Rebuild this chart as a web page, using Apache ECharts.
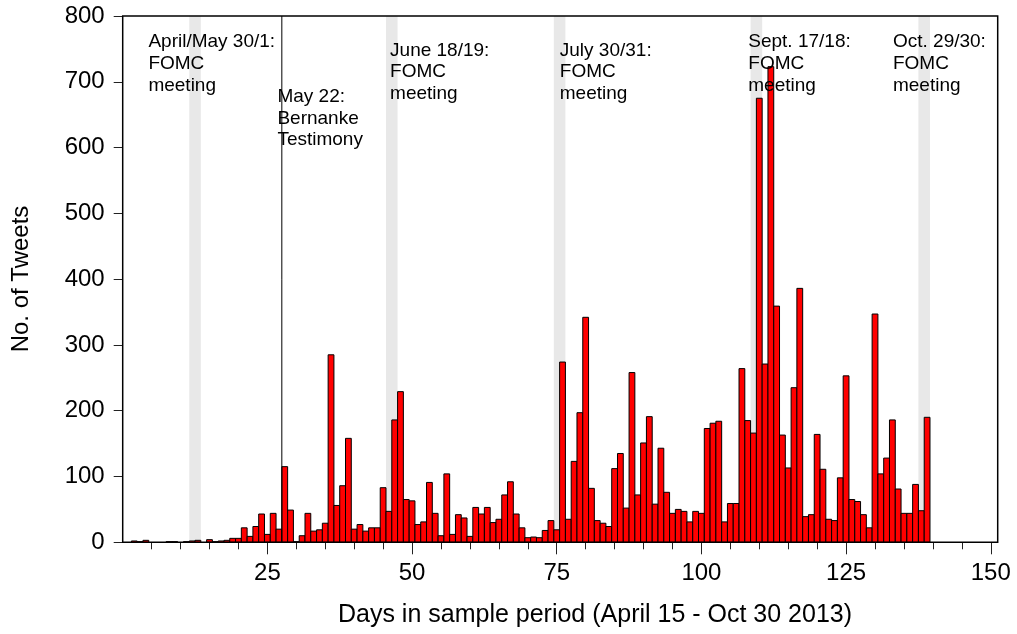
<!DOCTYPE html>
<html><head><meta charset="utf-8">
<script src="https://cdn.jsdelivr.net/npm/echarts@6/dist/echarts.min.js"></script>
<style>html,body{margin:0;padding:0;background:#fff}#c{width:1017px;height:634px}</style>
</head><body><div id="c"></div>
<script>
// Daily tweet counts, day 1 .. day 139 of the sample period
const tweets = [
  0,2,1,3,0,0,0,1,1,0,
  1,2,3,0,4,1,2,3,6,6,
  22,9,24,43,12,44,20,115,49,1,
  10,44,17,19,29,285,56,86,158,20,
  27,17,22,22,83,47,186,229,65,63,
  27,31,91,44,10,104,12,42,37,9,
  53,43,53,30,35,72,92,43,22,7,
  8,7,18,33,19,274,35,123,197,342,
  82,33,29,24,112,135,52,258,72,151,
  191,58,143,76,44,50,47,31,47,44,
  173,181,184,31,59,59,264,185,166,675,
  271,723,359,163,113,235,386,39,42,164,
  111,35,33,98,253,65,62,42,22,347,
  104,128,186,81,44,44,88,48,190
];
// FOMC meeting days (first day, second day)
const fomcDays = [[12,13],[46,47],[75,76],[109,110],[138,139]];
const bernankeDay = 27.5;
const majorTicks = [25,50,75,100,125,150];
const minorTicks = [5,10,15,20,30,35,40,45,55,60,65,70,80,85,90,95,105,110,115,120,130,135,140,145];
const noteTexts = [
  'April/May 30/1:\nFOMC\nmeeting',
  'May 22:\nBernanke\nTestimony',
  'June 18/19:\nFOMC\nmeeting',
  'July 30/31:\nFOMC\nmeeting',
  'Sept. 17/18:\nFOMC\nmeeting',
  'Oct. 29/30:\nFOMC\nmeeting'
];
const noteDay = [4.44, 26.73, 46.2, 75.53, 108.1, 133.1];
const noteValue = [777, 694, 764, 764, 777, 777];
const xTitle = 'Days in sample period (April 15 - Oct 30 2013)';
const yTitle = 'No. of Tweets';

const FONT = '"Liberation Sans", Arial, Helvetica, sans-serif';
const barData = tweets.map((v, i) => [i + 1, v]);
const noteData = noteTexts.map((t, i) => [noteDay[i], noteValue[i], i]);
const tickStyle = {color: '#222', width: 1};

const chart = echarts.init(document.getElementById('c'), null, {renderer: 'canvas'});
chart.setOption({
  animation: false,
  backgroundColor: '#fff',
  grid: {left: 122.7, right: 19.3, top: 16, bottom: 91.7, show: true,
         borderColor: '#000', borderWidth: 1.5, backgroundColor: 'transparent', z: 10,
         containLabel: false, outerBoundsMode: 'none'},
  xAxis: [{
    type: 'value', min: 0, max: 151.2, position: 'bottom',
    axisLine: {show: false}, splitLine: {show: false},
    axisTick: {show: true, length: 12, customValues: majorTicks, lineStyle: tickStyle},
    axisLabel: {customValues: majorTicks, margin: 19, fontSize: 24, color: '#000', fontFamily: FONT}
  }, {
    type: 'value', min: 0, max: 151.2, position: 'bottom',
    axisLine: {show: false}, splitLine: {show: false},
    axisTick: {show: true, length: 7, customValues: minorTicks, lineStyle: tickStyle},
    axisLabel: {show: false}
  }],
  yAxis: {
    type: 'value', min: 0, max: 800, interval: 100,
    axisLine: {show: false}, splitLine: {show: false},
    axisTick: {show: true, length: 9, lineStyle: tickStyle},
    axisLabel: {margin: 18, fontSize: 24, color: '#000', fontFamily: FONT}
  },
  graphic: [
    {type: 'text', x: 21.7, y: 279, rotation: Math.PI / 2,
     style: {text: yTitle, fontSize: 24, fontFamily: FONT, fill: '#000',
             align: 'center', verticalAlign: 'middle', textAlign: 'center', textVerticalAlign: 'middle'}},
    {type: 'text', x: 595, y: 615,
     style: {text: xTitle, fontSize: 25, fontFamily: FONT, fill: '#000',
             align: 'center', verticalAlign: 'middle', textAlign: 'center', textVerticalAlign: 'middle'}}
  ],
  series: [
    {
      type: 'custom', name: 'FOMC', silent: true, z: 1,
      data: fomcDays, encode: {x: [0, 1]},
      renderItem: (params, api) => {
        const a = api.coord([api.value(0) - 0.5, 0]);
        const b = api.coord([api.value(1) + 0.5, 0]);
        const cs = params.coordSys;
        return {type: 'rect', shape: {x: a[0], y: cs.y, width: b[0] - a[0], height: cs.height},
                style: {fill: '#e8e8e8'}};
      }
    },
    {
      type: 'custom', name: 'Tweets', silent: true, z: 2,
      data: barData, encode: {x: 0, y: 1},
      renderItem: (params, api) => {
        const d = api.value(0), v = api.value(1);
        if (!v) return {type: 'group', children: []};
        const p0 = api.coord([d - 0.5, v]);
        const p1 = api.coord([d + 0.5, 0]);
        return {type: 'rect', shape: {x: p0[0], y: p0[1], width: p1[0] - p0[0], height: p1[1] - p0[1]},
                style: {fill: '#ff0000', stroke: '#000', lineWidth: 1}};
      }
    },
    {
      type: 'custom', name: 'Bernanke', silent: true, z: 3,
      data: [[bernankeDay, 0]], encode: {x: 0},
      renderItem: (params, api) => {
        const p = api.coord([api.value(0), 0]);
        const cs = params.coordSys;
        return {type: 'line', shape: {x1: p[0], y1: cs.y, x2: p[0], y2: cs.y + cs.height},
                style: {stroke: '#000', lineWidth: 1}};
      }
    },
    {
      type: 'custom', name: 'Notes', silent: true, z: 4,
      data: noteData, encode: {x: 0, y: 1},
      renderItem: (params, api) => {
        const p = api.coord([api.value(0), api.value(1)]);
        return {type: 'text', x: p[0], y: p[1],
                style: {text: noteTexts[api.value(2)], fill: '#000', fontSize: 19, fontFamily: FONT,
                        lineHeight: 21.7, align: 'left', verticalAlign: 'top'}};
      }
    }
  ]
});
</script>
</body></html>
